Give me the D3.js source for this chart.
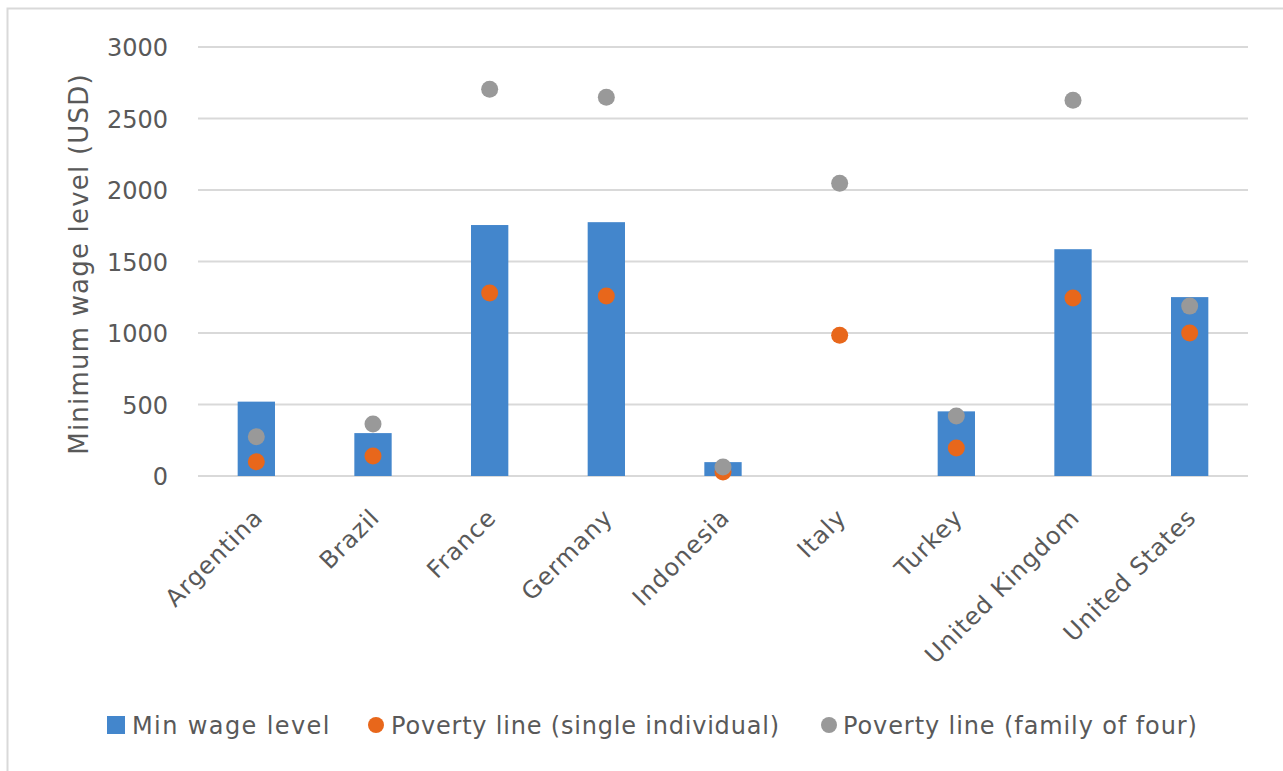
<!DOCTYPE html>
<html>
<head>
<meta charset="utf-8">
<script src="https://cdn.jsdelivr.net/npm/d3@7"></script>
<style>
  html, body { margin: 0; padding: 0; background: #fff; }
  svg { display: block; }
  text { font-family: "DejaVu Sans", sans-serif; fill: #595959; }
</style>
</head>
<body>
<svg id="chart" width="1283" height="771"></svg>
<script>
// Monthly minimum wage vs. poverty lines, USD
const countries = ["Argentina", "Brazil", "France", "Germany", "Indonesia", "Italy", "Turkey", "United Kingdom", "United States"];
const minWage = [520, 300, 1755, 1775, 97, null, 452, 1586, 1251];
const povertySingle = [100, 140, 1279, 1258, 28, 985, 196, 1244, 1000];
const povertyFamily = [275, 363, 2704, 2649, 63, 2048, 420, 2628, 1188];
const yTicks = [0, 500, 1000, 1500, 2000, 2500, 3000];
const seriesNames = ["Min wage level", "Poverty line (single individual)", "Poverty line (family of four)"];

const colors = { bar: "#4386cc", single: "#e8671b", family: "#999999", grid: "#d9d9d9" };

const svg = d3.select("#chart");

// outer chart frame
svg.append("rect")
  .attr("x", 7.5).attr("y", 8.5)
  .attr("width", 1300).attr("height", 800)
  .attr("fill", "#fff").attr("stroke", colors.grid).attr("stroke-width", 2);

const plot = { left: 198, right: 1248, top: 47, bottom: 476 };

const x = d3.scaleBand().domain(countries).range([plot.left, plot.right]).padding(0);
const y = d3.scaleLinear().domain([0, 3000]).range([plot.bottom, plot.top]);

const barWidth = x.bandwidth() * 0.32;
const dotR = 8.5;

// horizontal gridlines
svg.append("g")
  .selectAll("line")
  .data(yTicks)
  .join("line")
  .attr("x1", plot.left).attr("x2", plot.right)
  .attr("y1", d => y(d)).attr("y2", d => y(d))
  .attr("stroke", colors.grid).attr("stroke-width", 2);

// y axis labels
const yAxis = d3.axisLeft(y).tickValues(yTicks).tickSize(0).tickPadding(0).tickFormat(d3.format("d"));
const yg = svg.append("g").attr("transform", "translate(168,0)").call(yAxis);
yg.select(".domain").remove();
yg.selectAll("text")
  .attr("font-size", 24)
  .attr("font-family", "DejaVu Sans")
  .attr("fill", "#595959")
  .attr("dy", "0.36em");

// y axis title
svg.append("text")
  .attr("transform", `translate(88,264) rotate(-90)`)
  .attr("text-anchor", "middle")
  .attr("font-size", 26)
  .attr("letter-spacing", 1.2)
  .text("Minimum wage level (USD)");

// bars
const data = countries.map((c, i) => ({
  country: c, wage: minWage[i], single: povertySingle[i], family: povertyFamily[i]
}));

svg.append("g")
  .selectAll("rect")
  .data(data.filter(d => d.wage != null))
  .join("rect")
  .attr("x", d => x(d.country) + x.bandwidth() / 2 - barWidth / 2)
  .attr("y", d => y(d.wage))
  .attr("width", barWidth)
  .attr("height", d => y(0) - y(d.wage))
  .attr("fill", colors.bar);

// poverty line markers
svg.append("g")
  .selectAll("circle")
  .data(data)
  .join("circle")
  .attr("cx", d => x(d.country) + x.bandwidth() / 2)
  .attr("cy", d => y(d.single))
  .attr("r", dotR)
  .attr("fill", colors.single);

svg.append("g")
  .selectAll("circle")
  .data(data)
  .join("circle")
  .attr("cx", d => x(d.country) + x.bandwidth() / 2)
  .attr("cy", d => y(d.family))
  .attr("r", dotR)
  .attr("fill", colors.family);

// rotated category labels
svg.append("g")
  .selectAll("text")
  .data(countries)
  .join("text")
  .attr("transform", d => `translate(${x(d) + x.bandwidth() / 2 + 8},519) rotate(-45)`)
  .attr("text-anchor", "end")
  .attr("font-size", 24)
  .attr("letter-spacing", 1)
  .text(d => d);

// legend
const legend = svg.append("g").attr("font-size", 24);
const legendY = 725;
legend.append("rect").attr("x", 107).attr("y", legendY - 9).attr("width", 18).attr("height", 18).attr("fill", colors.bar);
legend.append("text").attr("x", 132).attr("y", legendY).attr("dy", "0.36em").attr("letter-spacing", 1.4).text(seriesNames[0]);
legend.append("circle").attr("cx", 376).attr("cy", legendY).attr("r", 8).attr("fill", colors.single);
legend.append("text").attr("x", 391).attr("y", legendY).attr("dy", "0.36em").attr("letter-spacing", 0.8).text(seriesNames[1]);
legend.append("circle").attr("cx", 829).attr("cy", legendY).attr("r", 8).attr("fill", colors.family);
legend.append("text").attr("x", 843).attr("y", legendY).attr("dy", "0.36em").attr("letter-spacing", 0.9).text(seriesNames[2]);
</script>
</body>
</html>
